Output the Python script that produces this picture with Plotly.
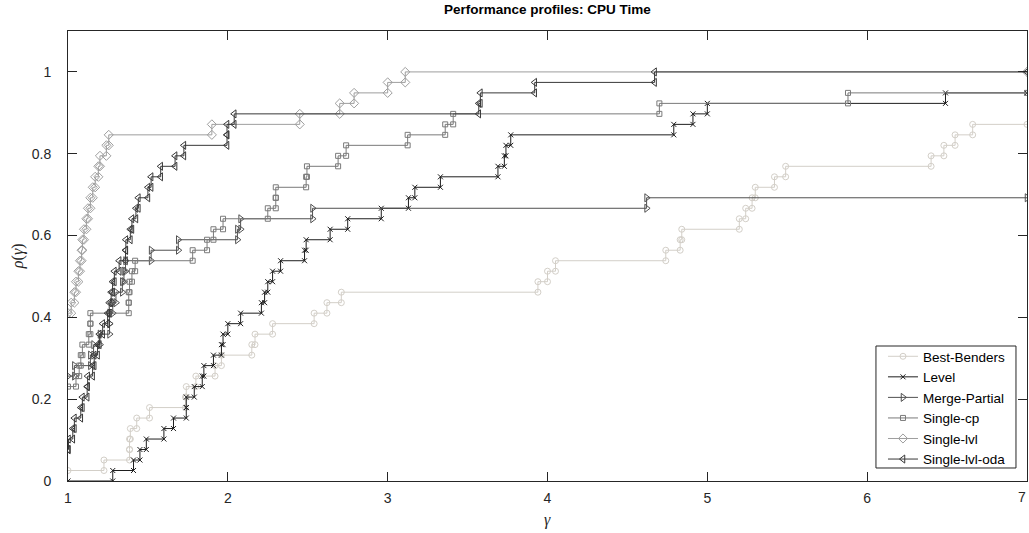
import plotly.graph_objects as go

N_PROBLEMS = 39
GAMMA_MAX = 7.0

series_names = ["Best-Benders", "Level", "Merge-Partial", "Single-cp", "Single-lvl", "Single-lvl-oda"]

# performance ratios of solved problems (unsolved ones never reach gamma <= 7)
best_benders = [1.0, 1.225, 1.385, 1.385, 1.39, 1.43, 1.51, 1.735, 1.74, 1.80, 1.92, 1.96,
                2.15, 2.17, 2.28, 2.54, 2.62, 2.71, 3.94, 4.0, 4.05, 4.74, 4.83, 4.84,
                5.20, 5.24, 5.28, 5.30, 5.42, 5.49, 6.40, 6.48, 6.55, 6.66]
level = [1.28, 1.41, 1.45, 1.49, 1.60, 1.66, 1.74, 1.74, 1.79, 1.84, 1.85, 1.91, 1.96,
         1.97, 2.0, 2.08, 2.21, 2.23, 2.25, 2.28, 2.33, 2.48, 2.49, 2.64, 2.75, 2.96,
         3.13, 3.17, 3.33, 3.69, 3.73, 3.74, 3.77, 4.79, 4.91, 5.0, 6.49]
merge_partial = [1.0] * 10 + [1.04, 1.14, 1.16, 1.20, 1.26, 1.26, 1.28, 1.30, 1.34, 1.35,
                              1.36, 1.52, 1.69, 2.06, 2.08, 2.53, 4.62]
single_cp = [1.0] * 9 + [1.05, 1.07, 1.08, 1.09, 1.13, 1.14, 1.14, 1.38, 1.38, 1.385,
                         1.40, 1.42, 1.78, 1.87, 1.91, 1.97, 2.25, 2.30, 2.30, 2.49, 2.495,
                         2.69, 2.74, 3.125, 3.36, 3.41, 4.70, 5.88]
single_lvl = [1.0] * 16 + [1.02, 1.04, 1.05, 1.065, 1.075, 1.085, 1.09, 1.10, 1.115, 1.125,
                           1.14, 1.155, 1.17, 1.19, 1.20, 1.24, 1.255, 1.90, 2.45, 2.70,
                           2.79, 3.0, 3.11]
single_lvl_oda = [1.0] * 3 + [1.003, 1.03, 1.04, 1.08, 1.09, 1.12, 1.123, 1.154, 1.164,
                              1.185, 1.196, 1.217, 1.248, 1.258, 1.27, 1.279, 1.29, 1.32,
                              1.36, 1.362, 1.39, 1.40, 1.425, 1.44, 1.50, 1.52, 1.58, 1.67,
                              1.725, 1.995, 1.995, 2.04, 3.57, 3.58, 3.92, 4.67]

ratios = [best_benders, level, merge_partial, single_cp, single_lvl, single_lvl_oda]
colors = ["#d3cfc8", "#1e1e1e", "#505050", "#7a7a7a", "#9e9e9e", "#383838"]
symbols = ["circle-open", "x-thin-open", "triangle-right-open", "square-open",
           "diamond-open", "triangle-left-open"]
msizes = [6, 5, 7, 5, 7, 7]

x_ticks = [1, 2, 3, 4, 5, 6, 7]
x_ticktext = ["1", "2", "3", "4", "5", "6", "7"]
y_ticks = [0, 0.2, 0.4, 0.6, 0.8, 1]
y_ticktext = ["0", "0.2", "0.4", "0.6", "0.8", "1"]

TICK_FONT = dict(family="Liberation Sans, Arial, sans-serif", size=14, color="#262626")


def stairs(r):
    r = sorted(r)
    n1 = sum(1 for v in r if v <= 1.0)
    xs = [1.0]
    ys = [n1 / N_PROBLEMS]
    k = n1
    for v in r[n1:]:
        xs += [v, v]
        ys += [k / N_PROBLEMS, (k + 1) / N_PROBLEMS]
        k += 1
    xs.append(GAMMA_MAX)
    ys.append(k / N_PROBLEMS)
    return xs, ys


fig = go.Figure()
for name, r, c, s, ms in zip(series_names, ratios, colors, symbols, msizes):
    xs, ys = stairs(r)
    fig.add_trace(go.Scatter(
        x=xs, y=ys, name=name, mode="lines+markers",
        line=dict(color=c, width=1),
        marker=dict(symbol=s, size=ms, color=c, line=dict(color=c, width=1)),
    ))

axis_common = dict(
    showline=True, linecolor="#262626", linewidth=1, mirror="ticks",
    ticks="inside", ticklen=9, tickcolor="#262626", tickwidth=1,
    showgrid=False, zeroline=False, automargin=False, tickfont=TICK_FONT,
)

# last x tick label is placed as an annotation so it stays inside the page
x_ticktext_axis = x_ticktext[:-1] + [""]

fig.update_layout(
    width=1029, height=533,
    margin=dict(l=68, r=2, t=31, b=52),
    paper_bgcolor="white", plot_bgcolor="white",
    title=dict(text="<b>Performance profiles: CPU Time</b>", x=0.532, xanchor="center",
               y=0.992, yanchor="top",
               font=dict(family="Liberation Sans, Arial, sans-serif", size=13.5, color="black")),
    xaxis=dict(range=[1, GAMMA_MAX], tickvals=x_ticks, ticktext=x_ticktext_axis,
               ticklabelstandoff=4, **axis_common),
    yaxis=dict(range=[0, 1.1], tickvals=y_ticks, ticktext=y_ticktext,
               ticklabelstandoff=13, **axis_common),
    legend=dict(x=0.9833, y=0.0133, xanchor="right", yanchor="bottom",
                bgcolor="rgba(0,0,0,0)", borderwidth=0,
                font=dict(family="Liberation Sans, Arial, sans-serif", size=13.5, color="black"),
                tracegroupgap=0),
    showlegend=True,
    shapes=[
        dict(type="rect", xref="paper", yref="paper", x0=0.8425, x1=0.9885, y0=0.0289, y1=0.3,
             fillcolor="white", line=dict(color="#262626", width=1), layer="above"),
    ],
    annotations=[
        dict(text=x_ticktext[-1], xref="paper", yref="paper", x=1.0, y=-0.0145,
             xanchor="right", yanchor="top", showarrow=False, borderpad=0,
             font=TICK_FONT),
        dict(text="<i>γ</i>", xref="paper", yref="paper", x=0.5, y=-0.087,
             xanchor="center", yanchor="middle", showarrow=False,
             font=dict(family="Liberation Serif, serif", size=16, color="#262626")),
        dict(text="<i>ρ</i>(<i>γ</i>)", xref="paper", yref="paper", x=-0.052, y=0.5,
             xanchor="center", yanchor="middle", showarrow=False, textangle=-90,
             font=dict(family="Liberation Serif, serif", size=16, color="#262626")),
    ],
)

fig.write_html("out.html", config={"displayModeBar": False},
               post_script="document.body.style.margin='0px';")
